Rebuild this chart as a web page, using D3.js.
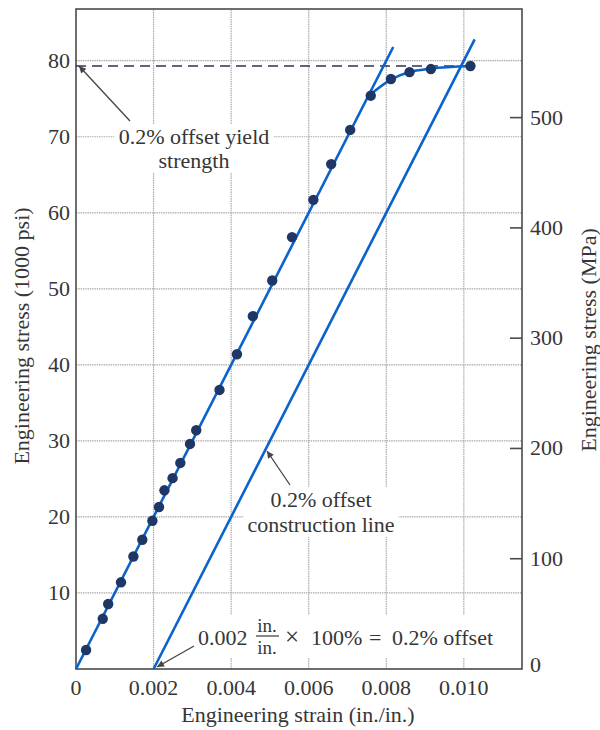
<!DOCTYPE html>
<html>
<head>
<meta charset="utf-8">
<script src="https://cdn.jsdelivr.net/npm/d3@7"></script>
<style>
  body { margin: 0; background: #fff; }
  text { font-family: "Liberation Serif", "DejaVu Serif", serif; fill: #363636; }
</style>
</head>
<body>
<div id="chart"></div>
<script>
// strain (in./in.) and stress (1000 psi)
let strain = [0.00026, 0.00069, 0.00083, 0.00116, 0.00148, 0.00171, 0.00197, 0.00214,
    0.00228, 0.00249, 0.00269, 0.00294, 0.0031, 0.0037, 0.00415, 0.00456, 0.00506,
    0.00557, 0.00612, 0.00658, 0.00707, 0.0076, 0.00812, 0.0086, 0.00915, 0.01017];
let stress = [2.5, 6.6, 8.55, 11.4, 14.8, 17.0, 19.5, 21.3,
    23.5, 25.1, 27.1, 29.6, 31.4, 36.7, 41.4, 46.4, 51.1,
    56.8, 61.7, 66.4, 70.9, 75.4, 77.6, 78.5, 78.9, 79.3];

// plastic part of the curve
let curveStrain = [0.0076, 0.00812, 0.0086, 0.00915, 0.01017];
let curveStress = [75.6, 77.5, 78.5, 78.95, 79.3];

let modulus = 10000;      // 1000 psi per in./in.
let offset = 0.002;
let elasticEnd = 0.00818;
let offsetEnd = 0.01028;
let yieldStress = 79.3;
let yieldStrain = 0.01017;

let xTicks = [0, 0.002, 0.004, 0.006, 0.008, 0.010];
let xTickLabels = ["0", "0.002", "0.004", "0.006", "0.008", "0.010"];
let yTicks = [10, 20, 30, 40, 50, 60, 70, 80];
let mpaTicks = [0, 100, 200, 300, 400, 500];

let width = 600;
let height = 730;
let ksiToMpa = 6.895;
let fs = 22;

const x = d3.scaleLinear().domain([0, 0.0115]).range([76, 522]);
const y = d3.scaleLinear().domain([0, 86.8]).range([669, 9]);
const yMpa = d3.scaleLinear().domain([0, 86.8 * ksiToMpa]).range([669, 9]);

let blue = "#0a62cc";
let dotColor = "#1e3766";
let gridColor = "#aaaaaa";
let axisColor = "#4a4a4a";

let svg = d3.select("#chart").append("svg")
    .attr("width", width)
    .attr("height", height);

svg.append("defs").append("marker")
    .attr("id", "head")
    .attr("viewBox", "0 0 10 10")
    .attr("refX", 10).attr("refY", 5)
    .attr("markerWidth", 9).attr("markerHeight", 7)
    .attr("markerUnits", "userSpaceOnUse")
    .attr("orient", "auto")
    .append("path")
    .attr("d", "M0,0 L10,5 L0,10 z")
    .attr("fill", "#444");

/* GRID */
let grid = svg.append("g");
grid.selectAll(".vg")
    .data(xTicks.slice(1))
    .join("line")
    .attr("x1", d => x(d)).attr("x2", d => x(d))
    .attr("y1", y(0)).attr("y2", y(86.8))
    .attr("stroke", gridColor)
    .attr("stroke-width", 1.2)
    .attr("stroke-dasharray", "1.5,0.8");
grid.selectAll(".hg")
    .data(yTicks)
    .join("line")
    .attr("x1", x(0)).attr("x2", x(0.0115))
    .attr("y1", d => y(d)).attr("y2", d => y(d))
    .attr("stroke", gridColor)
    .attr("stroke-width", 1.2)
    .attr("stroke-dasharray", "1.5,0.8");

/* LABELS with white boxes that break the grid */
let notes = svg.append("g");
const boxIt = (g) => {
    let b = g.node().getBBox();
    g.insert("rect", ":first-child")
        .attr("x", b.x - 4).attr("y", b.y)
        .attr("width", b.width + 8).attr("height", b.height)
        .attr("fill", "#fff");
}
const note = (lines, cx, y0, dy) => {
    let g = notes.append("g");
    let t = g.append("text")
        .attr("text-anchor", "middle")
        .attr("font-size", fs);
    lines.forEach((s, i) => {
        t.append("tspan").attr("x", cx).attr("y", y0 + i * dy).text(s);
    });
    boxIt(g);
    return g;
}
note(["0.2% offset yield", "strength"], 194, 144, 24);
note(["0.2% offset", "construction line"], 321, 507, 25);

// bottom note with the fraction
let fr = notes.append("g");
let pieces = [["0.002", 198, fs], ["\u00d7", 285, 25], ["100%", 311, fs], ["=", 369, fs], ["0.2% offset", 392, fs]];
fr.selectAll(".piece")
    .data(pieces)
    .join("text")
    .attr("x", d => d[1])
    .attr("y", 645)
    .attr("font-size", d => d[2])
    .text(d => d[0]);
fr.append("text").attr("font-size", 19).attr("text-anchor", "middle")
    .attr("x", 267).attr("y", 632).text("in.");
fr.append("text").attr("font-size", 19).attr("text-anchor", "middle")
    .attr("x", 267).attr("y", 654).text("in.");
boxIt(fr);
fr.append("line")
    .attr("x1", 256).attr("x2", 279)
    .attr("y1", 636).attr("y2", 636)
    .attr("stroke", "#363636").attr("stroke-width", 1.2);

/* AXES */
let frame = svg.append("g");
frame.append("rect")
    .attr("x", x(0)).attr("y", y(86.8))
    .attr("width", x(0.0115) - x(0)).attr("height", y(0) - y(86.8))
    .attr("fill", "none")
    .attr("stroke", axisColor)
    .attr("stroke-width", 1.6);

frame.selectAll(".xl")
    .data(xTicks)
    .join("text")
    .attr("x", d => x(d))
    .attr("y", 695)
    .attr("text-anchor", "middle")
    .attr("font-size", fs)
    .text((d, i) => xTickLabels[i]);

frame.selectAll(".yl")
    .data(yTicks)
    .join("text")
    .attr("x", 70)
    .attr("y", d => y(d) + 7)
    .attr("text-anchor", "end")
    .attr("font-size", fs)
    .text(d => d);

frame.selectAll(".rt")
    .data(mpaTicks.slice(1))
    .join("line")
    .attr("x1", x(0.0115) - 12).attr("x2", x(0.0115))
    .attr("y1", d => yMpa(d)).attr("y2", d => yMpa(d))
    .attr("stroke", axisColor)
    .attr("stroke-width", 1.6);

frame.selectAll(".rl")
    .data(mpaTicks)
    .join("text")
    .attr("x", 530)
    .attr("y", d => d === 0 ? yMpa(d) + 3 : yMpa(d) + 7)
    .attr("font-size", fs)
    .text(d => d);

svg.append("text")
    .attr("x", 298).attr("y", 722)
    .attr("text-anchor", "middle")
    .attr("font-size", fs)
    .text("Engineering strain (in./in.)");

svg.append("text")
    .attr("transform", "translate(29,336) rotate(-90)")
    .attr("text-anchor", "middle")
    .attr("font-size", fs)
    .text("Engineering stress (1000 psi)");

svg.append("text")
    .attr("transform", "translate(596,340) rotate(-90)")
    .attr("text-anchor", "middle")
    .attr("font-size", fs)
    .text("Engineering stress (MPa)");

/* YIELD DASH */
svg.append("line")
    .attr("x1", x(0)).attr("x2", x(yieldStrain))
    .attr("y1", y(yieldStress)).attr("y2", y(yieldStress))
    .attr("stroke", "#2b3550")
    .attr("stroke-width", 1.4)
    .attr("stroke-dasharray", "10,6");

/* LINES */
const line = d3.line().x(d => x(d[0])).y(d => y(d[1]));
svg.append("path")
    .attr("d", line([[0, 0], [elasticEnd, modulus * elasticEnd]]))
    .attr("stroke", blue).attr("stroke-width", 2.6).attr("fill", "none");
svg.append("path")
    .attr("d", line([[offset, 0], [offsetEnd, modulus * (offsetEnd - offset)]]))
    .attr("stroke", blue).attr("stroke-width", 2.6).attr("fill", "none");
svg.append("path")
    .attr("d", line.curve(d3.curveMonotoneX)(curveStrain.map((d, i) => [d, curveStress[i]])))
    .attr("stroke", blue).attr("stroke-width", 2.6).attr("fill", "none");

/* DOTS */
svg.selectAll("circle")
    .data(strain)
    .join("circle")
    .attr("cx", d => x(d))
    .attr("cy", (d, i) => y(stress[i]))
    .attr("r", 5.2)
    .attr("fill", dotColor);

/* ARROWS */
let arrows = [
    [130, 121, 79, 66],
    [290, 485, 267, 451],
    [194, 646, 157, 667]
];
svg.selectAll(".arrow")
    .data(arrows)
    .join("line")
    .attr("x1", d => d[0]).attr("y1", d => d[1])
    .attr("x2", d => d[2]).attr("y2", d => d[3])
    .attr("stroke", "#444")
    .attr("stroke-width", 1.3)
    .attr("marker-end", "url(#head)");
</script>
</body>
</html>
